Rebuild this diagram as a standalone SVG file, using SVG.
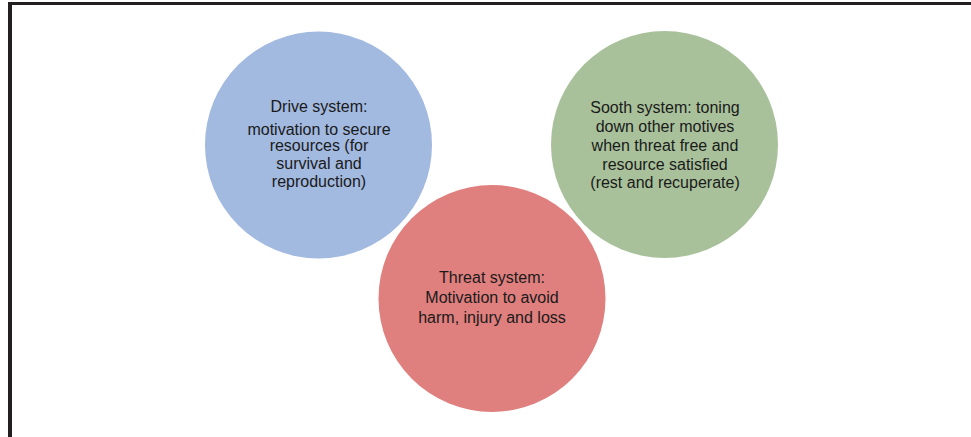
<svg xmlns="http://www.w3.org/2000/svg" width="971" height="437" viewBox="0 0 971 437">
  <style>
    .frame { fill: #231f20; }
    .label { font-family: "Liberation Sans", Arial, sans-serif; font-size: 16px; fill: #1a1a1a; text-anchor: middle; }
    .drive { fill: #a2b9e0; }
    .sooth { fill: #a9c19b; }
    .threat { fill: #df7f7e; }
  </style>
  <rect width="971" height="437" fill="#ffffff"/>
  <!-- frame: top and left rules -->
  <g id="frame">
    <rect class="frame" x="8" y="2" width="963" height="3"/>
    <rect class="frame" x="8" y="2" width="4" height="435"/>
  </g>
  <g id="connectors"/>
  <g id="drive">
    <circle class="drive" cx="318.5" cy="145" r="113.5"/>
    <text class="label" x="319" y="112">Drive system:</text>
    <text class="label" x="319" y="135">motivation to secure</text>
    <text class="label" x="319" y="151">resources (for</text>
    <text class="label" x="319" y="169">survival and</text>
    <text class="label" x="319" y="187">reproduction)</text>
  </g>
  <g id="sooth">
    <circle class="sooth" cx="664.5" cy="144.5" r="113.5"/>
    <text class="label" x="665" y="113">Sooth system: toning</text>
    <text class="label" x="665" y="132">down other motives</text>
    <text class="label" x="665" y="151">when threat free and</text>
    <text class="label" x="665" y="170">resource satisfied</text>
    <text class="label" x="665" y="188">(rest and recuperate)</text>
  </g>
  <g id="threat">
    <circle class="threat" cx="492" cy="298.5" r="113.5"/>
    <text class="label" x="492" y="283">Threat system:</text>
    <text class="label" x="492" y="303">Motivation to avoid</text>
    <text class="label" x="492" y="323">harm, injury and loss</text>
  </g>
</svg>
